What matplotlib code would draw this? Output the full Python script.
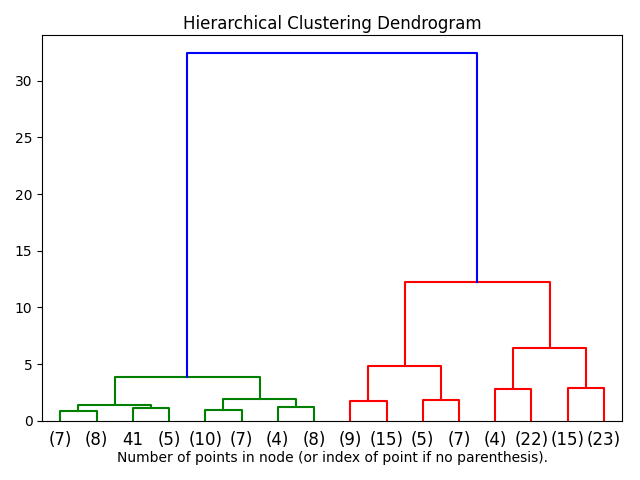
import matplotlib
matplotlib.use("Agg")
import matplotlib.pyplot as plt
import numpy as np

# leaves of the truncated tree, left to right
leaf_labels = ["(7)", "(8)", "41", "(5)", "(10)", "(7)", "(4)", "(8)",
               "(9)", "(15)", "(5)", "(7)", "(4)", "(22)", "(15)", "(23)"]

# merges: new node id = 16 + row index
merge_left = [0, 2, 16, 4, 6, 19, 18, 8, 10, 23, 12, 14, 26, 25, 22]
merge_right = [1, 3, 17, 5, 7, 20, 21, 9, 11, 24, 13, 15, 27, 28, 29]
merge_height = [0.88, 1.12, 1.41, 0.97, 1.24, 1.91, 3.91,
                1.76, 1.85, 4.85, 2.85, 2.94, 6.44, 12.27, 32.39]
merge_color = ["g"] * 7 + ["r"] * 8
merge_color[-1] = "b"

n = len(leaf_labels)
xpos = {i: 5 + 10 * i for i in range(n)}
ypos = {i: 0.0 for i in range(n)}

fig, ax = plt.subplots(figsize=(6.4, 4.8), dpi=100)
for k, (a, b, h, c) in enumerate(zip(merge_left, merge_right, merge_height, merge_color)):
    xa, xb = xpos[a], xpos[b]
    ax.plot([xa, xa, xb, xb], [ypos[a], h, h, ypos[b]], color=c, lw=1.5)
    xpos[n + k] = (xa + xb) / 2
    ypos[n + k] = h

ax.set_xlim(0, 10 * n)
ax.set_ylim(0, max(merge_height) * 1.05)
ax.set_xticks(np.arange(n) * 10 + 5)
ax.set_xticklabels(leaf_labels, fontsize=12)
for line in ax.get_xticklines():
    line.set_visible(False)
ax.set_title("Hierarchical Clustering Dendrogram", pad=4.5)
ax.set_xlabel("Number of points in node (or index of point if no parenthesis).", labelpad=1.8)

plt.subplots_adjust(left=0.066, right=0.972, top=0.927, bottom=0.123)
plt.savefig("out.png", dpi=100)
